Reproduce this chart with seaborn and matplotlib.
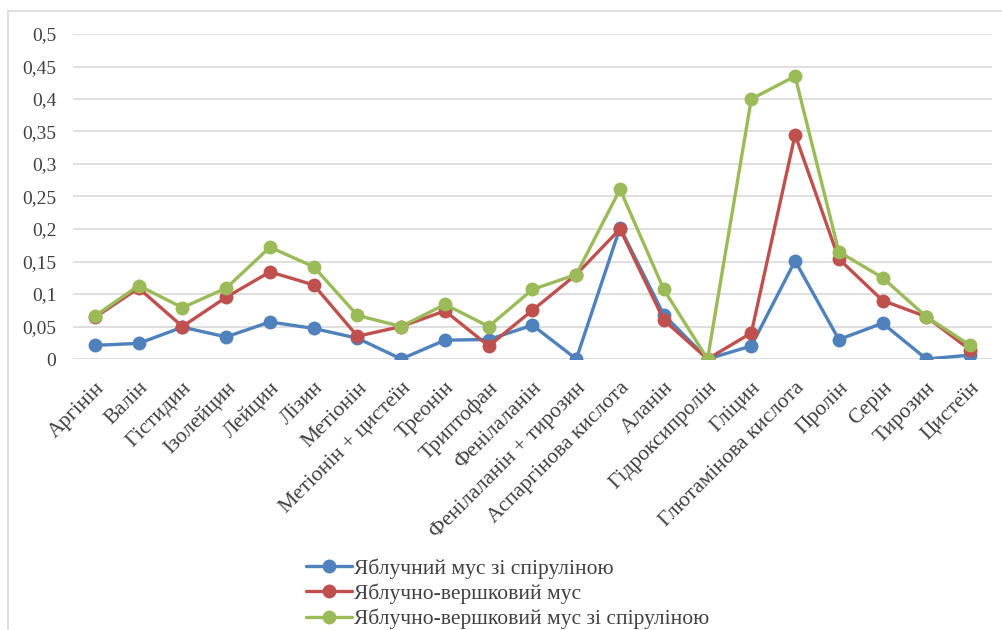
import matplotlib
matplotlib.use("Agg")
import matplotlib.pyplot as plt
import seaborn as sns
import pandas as pd
from matplotlib.ticker import FuncFormatter, MultipleLocator
from matplotlib.patches import Rectangle

categories = ["Аргінін", "Валін", "Гістидин", "Ізолейцин", "Лейцин", "Лізин", "Метіонін",
              "Метіонін + цистеїн", "Треонін", "Триптофан", "Фенілаланін",
              "Фенілаланін + тирозин", "Аспаргінова кислота", "Аланін", "Гідроксипролін",
              "Гліцин", "Глютамінова кислота", "Пролін", "Серін", "Тирозин", "Цистеїн"]

series_names = ["Яблучний мус зі спіруліною", "Яблучно-вершковий мус",
                "Яблучно-вершковий мус зі спіруліною"]

blue_vals = [0.021, 0.024, 0.049, 0.034, 0.057, 0.047, 0.032, 0.0, 0.029, 0.030, 0.052,
             0.0, 0.202, 0.068, 0.0, 0.020, 0.151, 0.030, 0.055, 0.0, 0.006]
red_vals = [0.064, 0.109, 0.050, 0.095, 0.134, 0.114, 0.035, 0.050, 0.074, 0.020, 0.075,
            0.130, 0.200, 0.060, 0.0, 0.040, 0.345, 0.154, 0.090, 0.065, 0.014]
green_vals = [0.066, 0.113, 0.079, 0.109, 0.172, 0.142, 0.067, 0.050, 0.084, 0.050, 0.107,
              0.130, 0.261, 0.107, 0.0, 0.400, 0.435, 0.165, 0.125, 0.065, 0.021]

colors = ["#4F81BD", "#C0504D", "#9BBB59"]

rows = []
for name, vals in zip(series_names, [blue_vals, red_vals, green_vals]):
    for i, v in enumerate(vals):
        rows.append({"idx": i, "value": v, "series": name})
df = pd.DataFrame(rows)

sns.set_theme(style="white")
plt.rcParams["font.family"] = ["Liberation Serif", "DejaVu Serif"]

fig = plt.figure(figsize=(10.03, 6.3), dpi=100)
ax = fig.add_axes([73 / 1003, 1 - 359 / 630, (992 - 73) / 1003, (359 - 34) / 630])

# chart border
fig.patches.append(Rectangle((8 / 1003, -0.1), 1.2, 1 - 11 / 630 + 0.1,
                             transform=fig.transFigure, fill=False,
                             edgecolor="#D9D9D9", linewidth=1.2))

sns.lineplot(data=df, x="idx", y="value", hue="series", palette=colors,
             marker="o", markersize=10, markeredgewidth=0, linewidth=2.4,
             ax=ax, sort=False, legend=True)

ax.set_xlim(-0.5, len(categories) - 0.5)
ax.set_ylim(0, 0.5)
ax.yaxis.set_major_locator(MultipleLocator(0.05))
ax.yaxis.set_major_formatter(FuncFormatter(lambda v, p: ("%g" % round(v, 2)).replace(".", ",")))
ax.grid(axis="y", color="#D9D9D9", linewidth=1.2)
ax.grid(axis="x", visible=False)
ax.set_axisbelow(True)
for s in ax.spines.values():
    s.set_visible(False)
ax.set_xlabel("")
ax.set_ylabel("")
ax.set_xticks(range(len(categories)))
ax.set_xticklabels(categories, rotation=45, ha="right", rotation_mode="anchor",
                   fontsize=15.5, color="#404040")
ax.tick_params(axis="y", labelsize=14, labelcolor="#404040", length=0, pad=12)
ax.tick_params(axis="x", length=0, pad=14)

leg = ax.legend(loc="upper center", bbox_to_anchor=(508 / 1003, 1 - 543 / 630),
                bbox_transform=fig.transFigure, frameon=False, fontsize=15.5,
                labelspacing=0.22, handlelength=2.1, handletextpad=0.12,
                borderpad=0.2, labelcolor="#404040")

fig.savefig("out.png", dpi=100)
